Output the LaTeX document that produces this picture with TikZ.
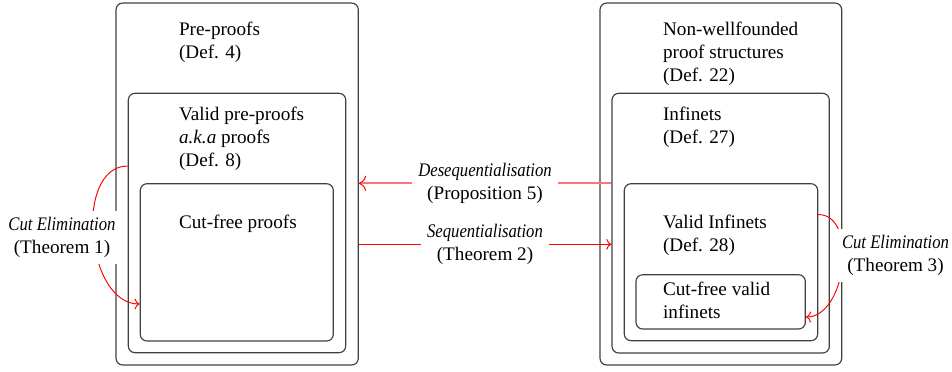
\documentclass[tikz,border=0pt]{standalone}
\usepackage{fontspec}
\setmainfont{Liberation Serif}
\newfontfamily\narrowit{Liberation Serif}[FakeStretch=0.87]
\usetikzlibrary{fit,arrows.meta}
\begin{document}
\begin{tikzpicture}[x=0.5217pt,y=-0.5217pt,
  box/.style={draw=black!75, line width=0.6pt, rounded corners=3.5pt, inner sep=0pt},
  txt/.style={anchor=base west, align=left, inner sep=0pt, font=\fontsize{10}{12}\selectfont},
  lab/.style={fill=white, align=center, inner sep=3.3pt, font=\fontsize{10}{12}\selectfont},
  seqa/.style={draw=red, line width=0.5pt, -{To[color=red]}},
  desq/.style={draw=red!55, line width=1pt, -{To[color=red, line width=0.5pt]}},
  cea/.style={draw=red, line width=0.5pt, -{To[color=red]}}]
\useasboundingbox (0,0) rectangle (952,371);
% left boxes
\node[box, fit={(116,3) (358.3,365)}] (lout) {};
\node[box, fit={(128.3,93.3) (345.7,352.7)}] (lmid) {};
\node[box, fit={(140.3,183.7) (333.3,341)}] (lin) {};
% right boxes
\node[box, fit={(600,3) (841.7,365)}] (rout) {};
\node[box, fit={(612,93.3) (829.3,353)}] (rmid) {};
\node[box, fit={(624.3,183.7) (817.7,340.7)}] (rin) {};
\node[box, fit={(636,274.7) (805.3,329)}] (rcore) {};
% texts (anchored at the baseline of their last line)
\node[txt] (tpre) at (178.7,58.3) {Pre-proofs\\(Def. 4)};
\node[txt] (tvalid) at (178.7,166.5) {Valid pre-proofs\\\textit{a.k.a} proofs\\(Def. 8)};
\node[txt] (tcf) at (178.7,228) {Cut-free proofs};
\node[txt] (tnwf) at (662.7,81.5) {Non-wellfounded\\proof structures\\(Def. 22)};
\node[txt] (tinf) at (662.7,143.7) {Infinets\\(Def. 27)};
\node[txt] (tvinf) at (662.7,251) {Valid Infinets\\(Def. 28)};
\node[txt] (tcfv) at (662.7,318) {Cut-free valid\\infinets};
% connectors
\draw[desq] (rmid.west |- 0,183.3) -- (lout.east |- 0,183.3);
\draw[seqa] (lout.east |- 0,244.3) -- (rmid.west |- 0,244.3);
\draw[cea] (lmid.west |- 0,166) to[out=180,in=180] (lin.west |- 0,304);
\draw[cea] (rin.east |- 0,214.5) to[out=0,in=0] (rcore.east |- 0,317);
% labels
\node[lab] (ldes) at (485,183.3) {{\narrowit\itshape Desequentialisation}\\(Proposition 5)};
\node[lab] (lseq) at (485,244.3) {{\narrowit\itshape Sequentialisation}\\(Theorem 2)};
\node[lab] (lce1) at (62,237.5) {{\narrowit\itshape Cut Elimination}\\(Theorem 1)};
\node[lab] (lce3) at (895.5,255.4) {{\narrowit\itshape Cut Elimination}\\(Theorem 3)};
\end{tikzpicture}
\end{document}
